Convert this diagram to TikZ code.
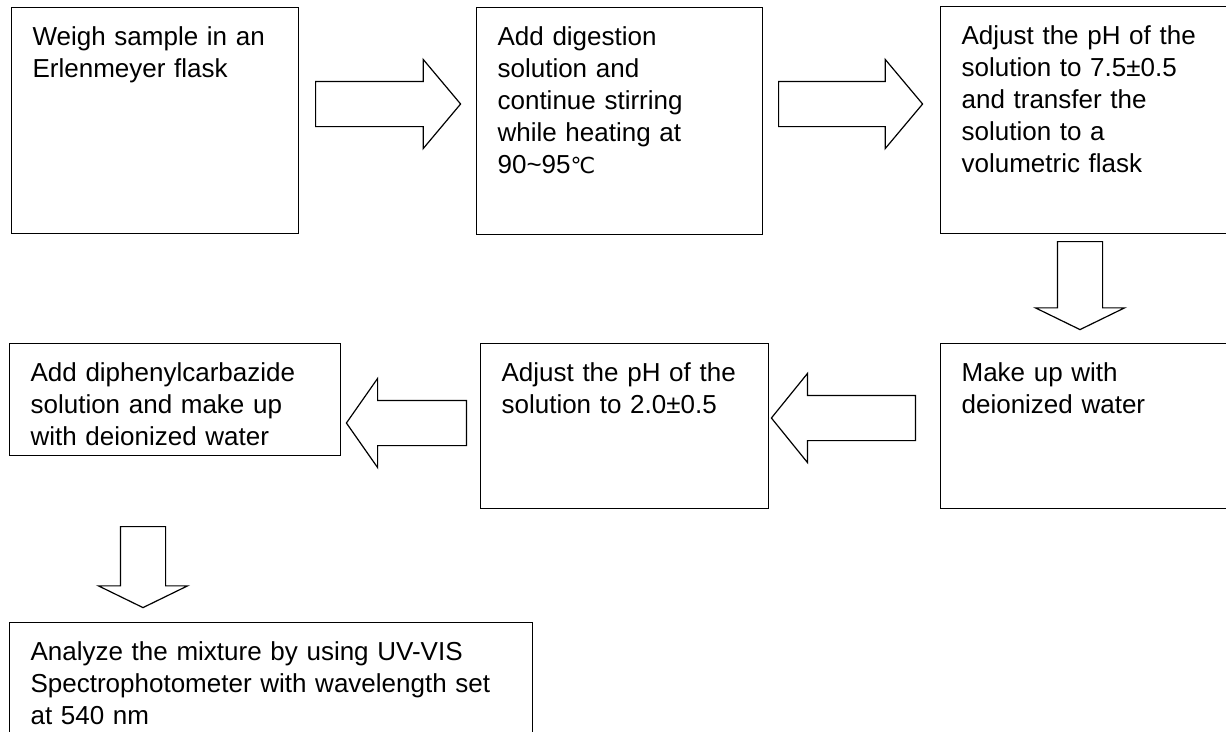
\documentclass[tikz,border=0pt]{standalone}
\usepackage{fontspec}
\setmainfont{Liberation Sans}
\newfontfamily\degfont{DejaVu Sans}
\usetikzlibrary{shapes.arrows}

\begin{document}
\begin{tikzpicture}[
    x=1pt, y=-1pt,
    stepbox/.style={rectangle, draw, line width=1.2pt, anchor=north west, align=left,
        inner xsep=21pt, inner ysep=19pt, text height=19pt,
        font=\fontsize{26}{32}\selectfont},
    bigarrow/.style={single arrow, draw, line width=1.2pt, inner sep=22pt,
        single arrow head extend=22pt, anchor=tail}
]
    \useasboundingbox (0,0) rectangle (1226,731);
    \clip (0,0) rectangle (1226,731);

    % Top row
    \node[stepbox, text width=245pt, text depth=169pt] (weigh) at (11,7)
        {Weigh sample in an\\Erlenmeyer flask};
    \node[stepbox, text width=244pt, text depth=170pt] (digest) at (476,7)
        {Add digestion\\solution and\\continue stirring\\while heating at\\90\textasciitilde 95{\degfont\fontsize{22}{32}\selectfont ℃}};
    \node[stepbox, text width=248pt, text depth=170pt] (neutral) at (940,6)
        {Adjust the pH of the\\solution to 7.5±0.5\\and transfer the\\solution to a\\volumetric flask};

    % Middle row
    \node[stepbox, text width=248pt, text depth=108pt] (makeup) at (940,343)
        {Make up with\\deionized water};
    \node[stepbox, text width=246pt, text depth=108pt] (acidify) at (480,343)
        {Adjust the pH of the\\solution to 2.0±0.5};
    \node[stepbox, text width=289pt, text depth=55pt] (reagent) at (9,343)
        {Add diphenylcarbazide\\solution and make up\\with deionized water};

    % Bottom row
    \node[stepbox, text width=481pt, text depth=63pt] (analyze) at (9,622)
        {Analyze the mixture by using UV-VIS\\Spectrophotometer with wavelength set\\at 540 nm};

    % Block arrows (placed by their tails)
    \node[bigarrow, minimum height=145pt, single arrow tip angle=100] (arr1) at (315,104) {};
    \node[bigarrow, minimum height=144pt, single arrow tip angle=100] (arr2) at (778,104) {};
    \node[bigarrow, minimum height=88pt, single arrow tip angle=128, shape border rotate=270] (arr3) at (1080,241) {};
    \node[bigarrow, minimum height=144pt, single arrow tip angle=102, shape border rotate=180] (arr4) at (916,418) {};
    \node[bigarrow, minimum height=120pt, single arrow tip angle=110, shape border rotate=180] (arr5) at (467,423) {};
    \node[bigarrow, minimum height=81pt, single arrow tip angle=128, shape border rotate=270] (arr6) at (143,526) {};

\end{tikzpicture}
\end{document}
